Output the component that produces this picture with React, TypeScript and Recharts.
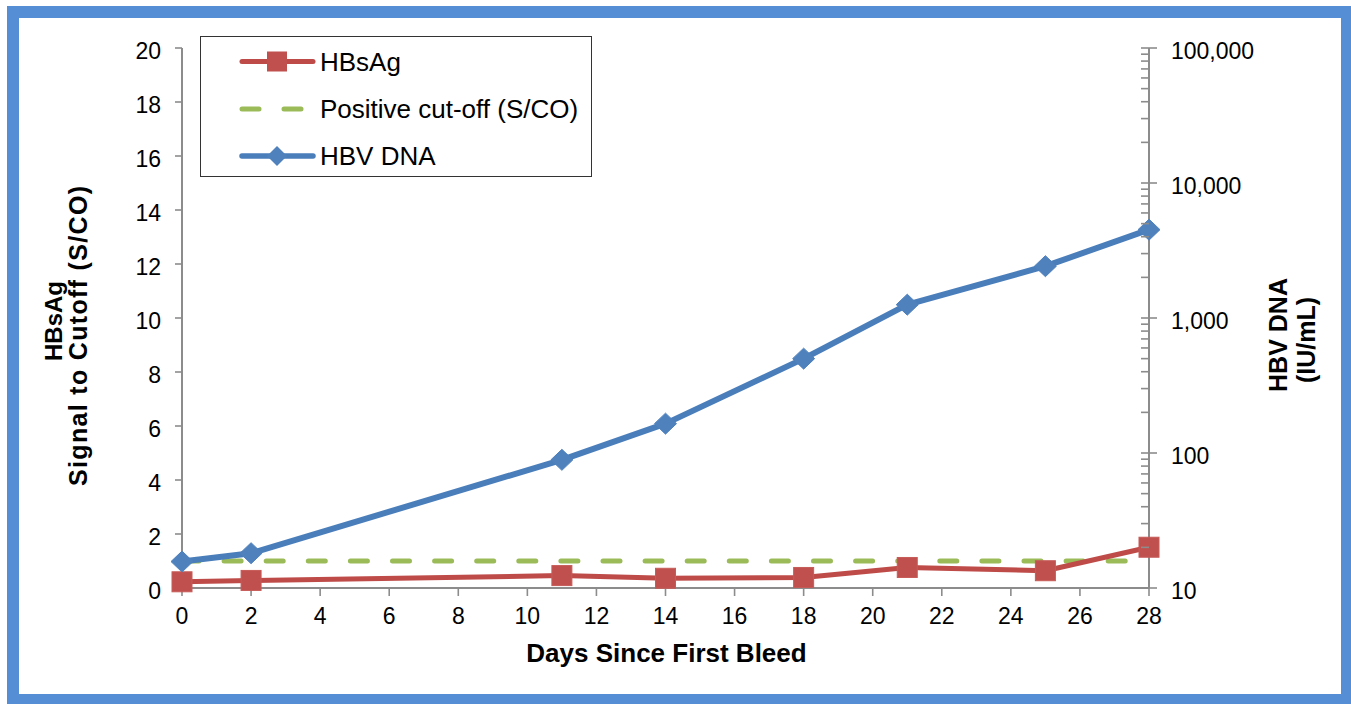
import React from 'react';
import { LineChart, Line, XAxis, YAxis, Legend } from 'recharts';

const days = [0, 2, 11, 14, 18, 21, 25, 28];
const hbsagValues = [0.23, 0.28, 0.46, 0.36, 0.39, 0.76, 0.64, 1.51];
const cutoffValues = [1, 1, 1, 1, 1, 1, 1, 1];
const hbvDnaValues = [15.7, 18.1, 89, 165, 500, 1255, 2420, 4510];

const xTicks = [0, 2, 4, 6, 8, 10, 12, 14, 16, 18, 20, 22, 24, 26, 28];
const leftTicks = [0, 2, 4, 6, 8, 10, 12, 14, 16, 18, 20];
const rightTicks = [
  10, 20, 30, 40, 50, 60, 70, 80, 90,
  100, 200, 300, 400, 500, 600, 700, 800, 900,
  1000, 2000, 3000, 4000, 5000, 6000, 7000, 8000, 9000,
  10000, 20000, 30000, 40000, 50000, 60000, 70000, 80000, 90000,
  100000,
];
const rightMajorTicks = [10, 100, 1000, 10000, 100000];

const seriesNames = ['HBsAg', 'Positive cut-off (S/CO)', 'HBV DNA'];

const data = days.map((d, i) => ({
  day: d,
  hbsag: hbsagValues[i],
  cutoff: cutoffValues[i],
  hbv: hbvDnaValues[i],
}));

const FONT = '"Liberation Sans", Arial, Helvetica, sans-serif';
const RED = '#C0504D';
const RED_LINE = '#BE4B48';
const GREEN = '#9BBB59';
const BLUE = '#4F81BD';
const BLUE_LINE = '#4A7EBB';
const AXIS = '#8C8C8C';

const RIGHT_TICK_SIZE = 8;
const RIGHT_TICK_MARGIN = 14;

const Square = (p: any) => {
  if (p.cx == null || p.cy == null) return <g key={p.key} />;
  return (
    <rect key={p.key} x={p.cx - 10} y={p.cy - 10} width={20} height={20} fill={RED} stroke="#C65B58" strokeWidth={1} />
  );
};

const Diamond = (p: any) => {
  if (p.cx == null || p.cy == null) return <g key={p.key} />;
  const { cx, cy } = p;
  return (
    <path key={p.key} d={`M${cx},${cy - 10.5} L${cx + 11},${cy} L${cx},${cy + 10.5} L${cx - 11},${cy} Z`} fill={BLUE} stroke={BLUE} strokeWidth={1} />
  );
};

const fmtNum = (v: number) => v.toLocaleString('en-US');

const RightTick = (props: any) => {
  const { x, y, payload } = props;
  const v = payload.value;
  const axisX = x - RIGHT_TICK_SIZE - RIGHT_TICK_MARGIN;
  const major = rightMajorTicks.includes(v);
  return (
    <g>
      <line x1={axisX - 8} x2={major ? axisX + 8 : axisX} y1={y} y2={y} stroke={AXIS} strokeWidth={1.6} />
      {major && (
        <text x={x} y={y} dy={11} textAnchor="start" fontSize={23} fontFamily={FONT} fill="#000">
          {fmtNum(v)}
        </text>
      )}
    </g>
  );
};

const LegendBox = () => (
  <div style={{ width: 392, height: 141, border: '1.5px solid #333', boxSizing: 'border-box', background: '#fff' }}>
    <svg width={390} height={138} style={{ display: 'block' }}>
      <g transform="translate(0,24.5)">
        <line x1={41} x2={112} y1={0} y2={0} stroke={RED_LINE} strokeWidth={5} strokeLinecap="round" />
        <rect x={66} y={-10} width={20} height={20} fill={RED} />
        <text x={119} y={9} fontSize={26} fontFamily={FONT} fill="#000">{seriesNames[0]}</text>
      </g>
      <g transform="translate(0,72)">
        <line x1={41} x2={112} y1={0} y2={0} stroke={GREEN} strokeWidth={5} strokeLinecap="round" strokeDasharray="17 25" />
        <text x={119} y={9} fontSize={26} fontFamily={FONT} fill="#000">{seriesNames[1]}</text>
      </g>
      <g transform="translate(0,119)">
        <line x1={41} x2={112} y1={0} y2={0} stroke={BLUE_LINE} strokeWidth={5.5} strokeLinecap="round" />
        <path d="M76,-10 L86,0 L76,10 L66,0 Z" fill={BLUE} />
        <text x={119} y={9} fontSize={26} fontFamily={FONT} fill="#000">{seriesNames[2]}</text>
      </g>
    </svg>
  </div>
);

export default function App() {
  return (
    <div style={{ position: 'absolute', left: 0, top: 0, width: 1351, height: 704, background: '#fff', overflow: 'hidden' }}>
      <div
        style={{
          position: 'absolute',
          left: 7,
          top: 6,
          width: 1346,
          height: 700,
          border: '12px solid #558ED5',
          boxSizing: 'border-box',
        }}
      />
      <div style={{ position: 'absolute', left: 0, top: 0 }}>
        <LineChart width={1351} height={704} data={data} margin={{ top: 48, right: 100, bottom: 86, left: 112 }}>
          <XAxis
            dataKey="day"
            type="number"
            domain={[0, 28]}
            ticks={xTicks}
            interval={0}
            tickSize={8}
            tickMargin={12}
            height={30}
            axisLine={{ stroke: AXIS, strokeWidth: 2 }}
            tickLine={{ stroke: AXIS, strokeWidth: 1.6 }}
            tick={{ fontSize: 23, fontFamily: FONT, fill: '#000' }}
          />
          <YAxis
            yAxisId="left"
            orientation="left"
            domain={[0, 20]}
            ticks={leftTicks}
            interval={0}
            width={70}
            tickSize={7}
            tickMargin={14}
            axisLine={{ stroke: AXIS, strokeWidth: 2 }}
            tickLine={{ stroke: AXIS, strokeWidth: 1.6 }}
            tick={{ fontSize: 23, fontFamily: FONT, fill: '#000', dy: 3 }}
          />
          <YAxis
            yAxisId="right"
            orientation="right"
            scale="log"
            domain={[10, 100000]}
            allowDataOverflow
            ticks={rightTicks}
            interval={0}
            width={102}
            tickSize={RIGHT_TICK_SIZE}
            tickMargin={RIGHT_TICK_MARGIN}
            axisLine={{ stroke: AXIS, strokeWidth: 2 }}
            tickLine={false}
            tick={<RightTick />}
          />
          <Legend
            layout="vertical"
            align="center"
            verticalAlign="middle"
            wrapperStyle={{ left: 200, top: 36, width: 392, height: 141 }}
            content={() => <LegendBox />}
          />
          <Line
            yAxisId="left"
            dataKey="cutoff"
            name={seriesNames[1]}
            stroke={GREEN}
            strokeWidth={5}
            strokeDasharray="17 25.1"
            strokeLinecap="round"
            dot={false}
            activeDot={false}
            isAnimationActive={false}
          />
          <Line
            yAxisId="left"
            dataKey="hbsag"
            name={seriesNames[0]}
            stroke={RED_LINE}
            strokeWidth={5}
            strokeLinejoin="round"
            dot={Square}
            activeDot={false}
            isAnimationActive={false}
          />
          <Line
            yAxisId="right"
            dataKey="hbv"
            name={seriesNames[2]}
            stroke={BLUE_LINE}
            strokeWidth={6}
            strokeLinejoin="round"
            dot={Diamond}
            activeDot={false}
            isAnimationActive={false}
          />
        </LineChart>
      </div>
      <svg width={1351} height={704} style={{ position: 'absolute', left: 0, top: 0, pointerEvents: 'none' }}>
        <text x={666.5} y={662} textAnchor="middle" fontSize={26} fontWeight="bold" fontFamily={FONT} fill="#000">
          Days Since First Bleed
        </text>
        <text transform="translate(62,321) rotate(-90)" textAnchor="middle" fontSize={24} fontWeight="bold" fontFamily={FONT} fill="#000">
          HBsAg
        </text>
        <text transform="translate(87,336) rotate(-90)" textAnchor="middle" fontSize={25} fontWeight="bold" fontFamily={FONT} fill="#000" textLength={300} lengthAdjust="spacing">
          Signal to Cutoff (S/CO)
        </text>
        <text transform="translate(1287,335) rotate(-90)" textAnchor="middle" fontSize={25} fontWeight="bold" fontFamily={FONT} fill="#000">
          HBV DNA
        </text>
        <text transform="translate(1315,340) rotate(-90)" textAnchor="middle" fontSize={25} fontWeight="bold" fontFamily={FONT} fill="#000">
          (IU/mL)
        </text>
      </svg>
    </div>
  );
}
